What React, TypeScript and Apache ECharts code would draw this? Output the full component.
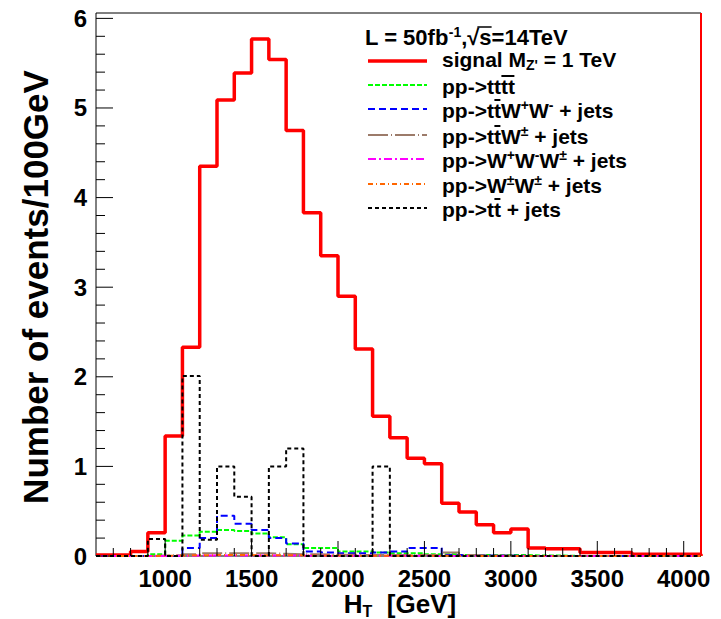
import React, { useEffect, useRef } from 'react';
import * as echarts from 'echarts';

// Bin edges (GeV), 100 GeV wide bins
const binLow = [600, 700, 800, 900, 1000, 1100, 1200, 1300, 1400, 1500, 1600, 1700, 1800, 1900, 2000, 2100, 2200, 2300, 2400, 2500, 2600, 2700, 2800, 2900, 3000, 3100, 3200, 3300, 3400, 3500, 3600, 3700, 3800, 3900, 4000];
const xEnd = 4100;

// Number of events / 100 GeV
const signal = [0.01, 0.01, 0.05, 0.26, 1.34, 2.33, 4.35, 5.09, 5.39, 5.77, 5.54, 4.75, 3.83, 3.35, 2.90, 2.31, 1.56, 1.32, 1.09, 1.03, 0.59, 0.49, 0.35, 0.26, 0.30, 0.09, 0.08, 0.08, 0.04, 0.04, 0.04, 0.02, 0.02, 0.02, 0.02];
const tttt = [0, 0, 0, 0.02, 0.17, 0.23, 0.27, 0.29, 0.28, 0.25, 0.21, 0.13, 0.09, 0.09, 0.05, 0.05, 0.04, 0.03, 0.03, 0.02, 0.02, 0.01, 0.01, 0.01, 0.01, 0.005, 0.005, 0, 0, 0, 0, 0, 0, 0, 0];
const ttWW = [0, 0, 0, 0, 0, 0.09, 0.2, 0.45, 0.36, 0.29, 0.2, 0.14, 0.05, 0.04, 0.03, 0.03, 0.04, 0.05, 0.09, 0.09, 0.01, 0.01, 0.005, 0.005, 0, 0, 0, 0, 0, 0, 0, 0, 0, 0, 0];
const ttW = [0, 0, 0, 0.005, 0.01, 0.02, 0.03, 0.03, 0.03, 0.03, 0.025, 0.02, 0.02, 0.015, 0.015, 0.01, 0.01, 0.01, 0.01, 0.01, 0.04, 0.01, 0.005, 0.005, 0, 0, 0, 0, 0, 0, 0, 0, 0, 0, 0];
const WWW = [0, 0, 0, 0, 0.003, 0.005, 0.006, 0.006, 0.006, 0.005, 0.005, 0.004, 0.004, 0.003, 0.003, 0.002, 0.002, 0.002, 0.001, 0.001, 0.001, 0, 0, 0, 0, 0, 0, 0, 0, 0, 0, 0, 0, 0, 0];
const WW = [0, 0, 0, 0.002, 0.006, 0.008, 0.01, 0.01, 0.01, 0.009, 0.008, 0.007, 0.006, 0.005, 0.004, 0.004, 0.003, 0.003, 0.002, 0.002, 0.002, 0.001, 0.001, 0, 0, 0, 0, 0, 0, 0, 0, 0, 0, 0, 0];
const ttjets = [0, 0, 0, 0.19, 0, 2.01, 0.18, 1.0, 0.66, 0, 1.0, 1.2, 0, 0, 0, 0, 1.0, 0, 0, 0, 0, 0, 0, 0, 0, 0, 0, 0, 0, 0, 0, 0, 0, 0, 0];

// Axis ticks
const xMajorTicks = [1000, 1500, 2000, 2500, 3000, 3500, 4000];
const yMajorTicks = [0, 1, 2, 3, 4, 5, 6];
const xMin = 600;
const xMax = 4100;
const yMax = 6.06;

const FONT = '"Liberation Sans", Arial, Helvetica, sans-serif';

type SeriesDef = { name: string; values: number[]; color: string; width: number; dash: number[] | 'solid' };
const seriesDefs: SeriesDef[] = [
  { name: 'signal', values: signal, color: '#ff0000', width: 3.5, dash: 'solid' },
  { name: 'tttt', values: tttt, color: '#00ff00', width: 2, dash: [5, 2] },
  { name: 'ttWW', values: ttWW, color: '#0000ff', width: 2, dash: [7, 4] },
  { name: 'ttW', values: ttW, color: '#9c7b6a', width: 2, dash: [20, 3, 1, 3] },
  { name: 'WWW', values: WWW, color: '#ff00ff', width: 2, dash: [8, 3, 2, 3] },
  { name: 'WW', values: WW, color: '#ff6600', width: 2, dash: [5, 3, 1, 3] },
  { name: 'ttjets', values: ttjets, color: '#000000', width: 2, dash: [4, 3] },
];

const legendTexts = [
  'signal M{sub|Z\'} = 1 TeV',
  'pp->tttt',
  'pp->ttW{sup|+}W{sup|-} + jets',
  'pp->ttW{sup|\u00b1} + jets',
  'pp->W{sup|+}W{sup|-}W{sup|\u00b1} + jets',
  'pp->W{sup|\u00b1}W{sup|\u00b1} + jets',
  'pp->tt + jets',
];
// anti-quark overlines: [plain prefix, overlined part]
const legendBars: (string[] | null)[] = [null, ['pp->tt', 'tt'], ['pp->t', 't'], ['pp->t', 't'], null, null, ['pp->t', 't']];

function buildTicks() {
  const items: { value: number[] }[] = [];
  for (let v = 700; v < xMax; v += 100) {
    const major = xMajorTicks.indexOf(v) >= 0;
    items.push({ value: [v, major ? 0 : 1] });
  }
  for (let i = 0; i < yMajorTicks.length; i++) {
    items.push({ value: [yMajorTicks[i], 2] });
    for (let k = 1; k < 5; k++) {
      const v = yMajorTicks[i] + k * 0.2;
      if (v < yMax) items.push({ value: [v, 3] });
    }
  }
  return items;
}

export default function App() {
  const ref = useRef<HTMLDivElement>(null);
  useEffect(() => {
    if (!ref.current) return;
    const chart = echarts.init(ref.current, undefined, { renderer: 'svg' });

    const ctx = document.createElement('canvas').getContext('2d')!;
    const measure = (t: string, size: number) => {
      ctx.font = `bold ${size}px ${FONT}`;
      return ctx.measureText(t).width;
    };

    const LS = 21; // legend font size
    const HS = 22; // header font size
    const SUP = 14;
    const richBase = { fontFamily: FONT, fontWeight: 'bold' as const, fill: '#000' };
    const legendRich = {
      sup: { ...richBase, fontSize: SUP, lineHeight: 13, verticalAlign: 'top' },
      sub: { ...richBase, fontSize: SUP, lineHeight: 9, verticalAlign: 'bottom' },
    };

    const legendRowsY = [61, 85, 109, 135, 159, 184, 208];
    const graphics: any[] = [];
    const hx = 365, hy = 37;
    graphics.push({
      type: 'text',
      style: {
        text: 'L = 50fb{sup|-1},\u221As=14TeV',
        x: hx, y: hy, fill: '#000', fontFamily: FONT, fontWeight: 'bold', fontSize: HS, lineHeight: 25,
        align: 'left', verticalAlign: 'middle', rich: legendRich,
      },
      z: 100,
    });
    // overline of the square root
    {
      const sqrtX = hx + measure('L = 50fb', HS) + measure('-1', SUP) + measure(',', HS);
      const x1 = sqrtX + measure('\u221A', HS) - 2;
      const x2 = x1 + measure('s', HS) + 2;
      graphics.push({ type: 'line', shape: { x1, y1: hy - 10, x2, y2: hy - 10 }, style: { stroke: '#000', lineWidth: 1.5 }, z: 100 });
    }
    seriesDefs.forEach((s, i) => {
      const y = legendRowsY[i];
      graphics.push({
        type: 'line',
        shape: { x1: 368, y1: y, x2: 427, y2: y },
        style: { stroke: s.color, lineWidth: s.width, lineDash: s.dash === 'solid' ? null : s.dash },
        z: 100,
      });
      const ty = i === 0 ? y - 2 : y + 1;
      graphics.push({
        type: 'text',
        style: {
          text: legendTexts[i],
          x: 442, y: ty, fill: '#000', fontFamily: FONT, fontWeight: 'bold', fontSize: LS, lineHeight: 25,
          align: 'left', verticalAlign: 'middle', rich: legendRich,
        },
        z: 100,
      });
      const bar = legendBars[i];
      if (bar) {
        const x1 = 442 + measure(bar[0], LS) + 0.5;
        const x2 = x1 + measure(bar[1], LS) - 1;
        graphics.push({ type: 'line', shape: { x1, y1: ty - 10, x2, y2: ty - 10 }, style: { stroke: '#000', lineWidth: 2 }, z: 100 });
      }
    });
    // Axis titles
    graphics.push({
      type: 'text',
      style: {
        text: 'H{sub|T}  [GeV]',
        x: 400, y: 604, fill: '#000', fontFamily: FONT, fontWeight: 'bold', fontSize: 26, lineHeight: 30,
        align: 'center', verticalAlign: 'middle',
        rich: {
          sub: { ...richBase, fontSize: 16, lineHeight: 10, verticalAlign: 'bottom' },
        },
      },
    });
    graphics.push({
      type: 'text',
      x: 35, y: 287, rotation: Math.PI / 2,
      style: {
        text: 'Number of events/100GeV',
        x: 0, y: 0, fill: '#000', fontFamily: FONT, fontWeight: 'bold', fontSize: 35,
        align: 'center', verticalAlign: 'middle',
      },
    });

    const lineSeries = seriesDefs.map((s, i) => {
      const data = binLow.map((x, j) => [x, s.values[j]]);
      data.push([xEnd, 0]);
      const ser: any = {
        type: 'line',
        name: s.name,
        step: 'end',
        data,
        showSymbol: false,
        symbol: 'none',
        lineStyle: { color: s.color, width: s.width, type: s.dash },
        z: 2 + i,
        clip: true,
      };
      if (i === 0) {
        ser.markLine = {
          silent: true,
          symbol: ['none', 'none'],
          label: { show: false },
          lineStyle: { color: '#ff0000', width: 2, type: 'solid' },
          data: [{ xAxis: xEnd }],
        };
      }
      return ser;
    });

    chart.setOption({
      animation: false,
      backgroundColor: '#ffffff',
      grid: { left: 96, right: 20, top: 13, bottom: 63, show: true, borderColor: '#000', borderWidth: 1, backgroundColor: 'transparent' },
      xAxis: {
        type: 'value', min: xMin, max: xMax, interval: 100,
        axisLine: { show: false }, axisTick: { show: false }, splitLine: { show: false },
        axisLabel: {
          margin: 10, color: '#000', fontFamily: FONT, fontWeight: 'bold', fontSize: 24,
          formatter: (v: number) => (xMajorTicks.indexOf(Math.round(v)) >= 0 ? String(Math.round(v)) : ''),
        },
      },
      yAxis: {
        type: 'value', min: 0, max: yMax, interval: 1,
        axisLine: { show: false }, axisTick: { show: false }, splitLine: { show: false },
        axisLabel: {
          margin: 9, color: '#000', fontFamily: FONT, fontWeight: 'bold', fontSize: 24,
          showMaxLabel: false,
          formatter: (v: number) => (yMajorTicks.indexOf(v) >= 0 ? String(v) : ''),
        },
      },
      graphic: graphics,
      series: [
        ...lineSeries,
        {
          type: 'custom',
          name: 'ticks',
          silent: true,
          z: 20,
          clip: false,
          data: buildTicks(),
          renderItem: (params: any, api: any) => {
            const v = api.value(0);
            const k = api.value(1);
            if (k < 2) {
              const p = api.coord([v, 0]);
              const len = k === 0 ? 15 : 8;
              return { type: 'line', shape: { x1: p[0], y1: p[1], x2: p[0], y2: p[1] - len }, style: { stroke: '#000', lineWidth: 1 } };
            }
            const p = api.coord([xMin, v]);
            const len = k === 2 ? 17 : 9;
            return { type: 'line', shape: { x1: p[0], y1: p[1], x2: p[0] + len, y2: p[1] }, style: { stroke: '#000', lineWidth: 1 } };
          },
        },
      ],
    });
    return () => chart.dispose();
  }, []);
  return <div ref={ref} style={{ position: 'fixed', left: 0, top: 0, width: 721, height: 619 }} />;
}
